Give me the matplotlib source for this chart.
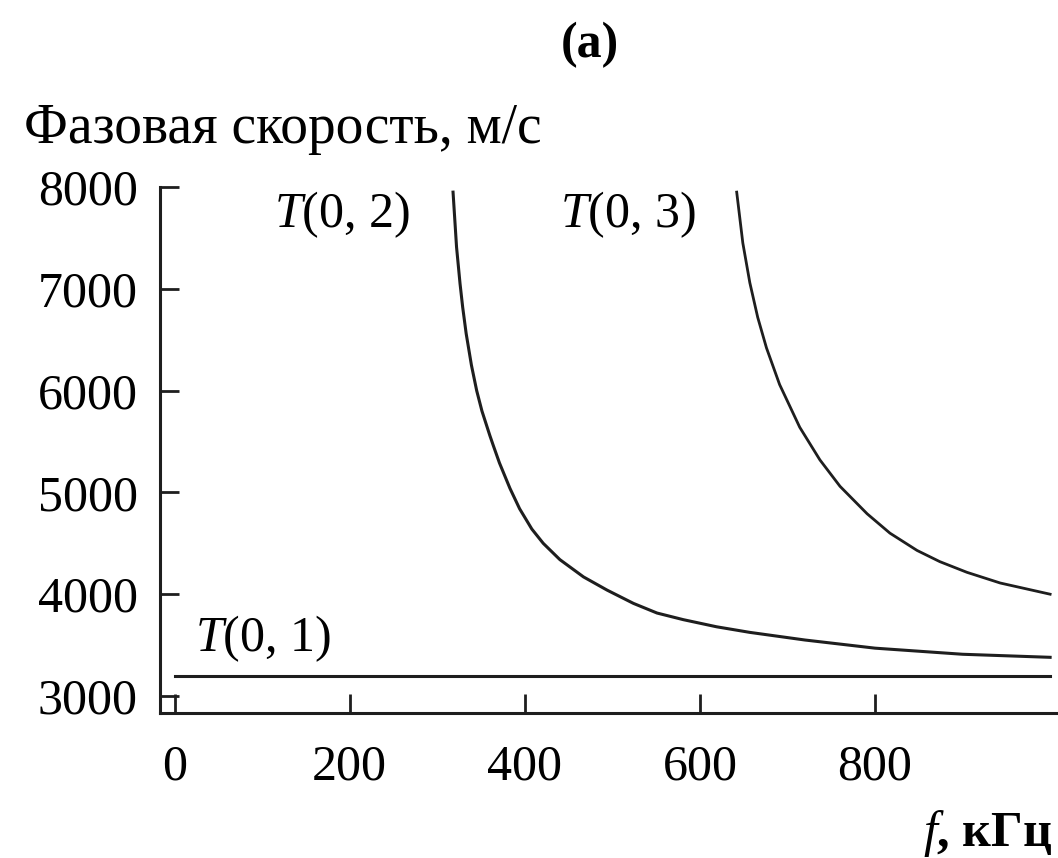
import matplotlib
matplotlib.use('Agg')
import matplotlib.pyplot as plt

# values
f_t01 = [0, 1000]
v_t01 = [3200, 3200]

f_t02 = [318, 322, 326, 329, 333, 339, 345, 351, 360, 364, 371, 383, 394, 408, 421,
         440, 467, 494, 524, 551, 581, 619, 657, 720, 800, 900, 1000]
v_t02 = [7950, 7410, 7050, 6820, 6560, 6250, 6000, 5800, 5560, 5460, 5290, 5040, 4840, 4640, 4500,
         4340, 4170, 4040, 3910, 3815, 3750, 3680, 3625, 3550, 3470, 3410, 3380]

f_t03 = [642, 649, 657, 666, 676, 691, 714, 737, 760, 791, 817, 848, 874, 905, 943, 1000]
v_t03 = [7950, 7450, 7060, 6720, 6420, 6060, 5640, 5320, 5060, 4790, 4600, 4430, 4320, 4215, 4110, 4000]

x_ticks = [0, 200, 400, 600, 800]
y_ticks = [3000, 4000, 5000, 6000, 7000, 8000]

plt.rcParams['font.family'] = ['Liberation Serif', 'DejaVu Serif']
plt.rcParams['mathtext.fontset'] = 'custom'
plt.rcParams['mathtext.rm'] = 'Liberation Serif'
plt.rcParams['mathtext.it'] = 'Liberation Serif:italic'

fig = plt.figure(figsize=(10.58, 8.58), dpi=100)
ax = fig.add_axes([0.151, 0.169, 0.849, 0.613])

col = '#1e1e1e'
ax.plot(f_t01, v_t01, color=col, lw=2.2)
ax.plot(f_t02, v_t02, color=col, lw=2.2)
ax.plot(f_t03, v_t03, color=col, lw=2.0)

ax.set_xlim(-17, 1009)
ax.set_ylim(2833, 8000)
ax.set_xticks(x_ticks)
ax.set_yticks(y_ticks)

for s in ['top', 'right']:
    ax.spines[s].set_visible(False)
for s in ['left', 'bottom']:
    ax.spines[s].set_linewidth(2.2)
    ax.spines[s].set_color(col)

ax.tick_params(direction='in', length=14, width=2, color=col, labelsize=36)
ax.tick_params(axis='x', pad=22)
ax.tick_params(axis='y', pad=16)

ax.text(114, 7725, '$T$(0, 2)', fontsize=36, va='center', ha='left')
ax.text(440, 7725, '$T$(0, 3)', fontsize=36, va='center', ha='left')
ax.text(23, 3560, '$T$(0, 1)', fontsize=36, va='center', ha='left')

fig.text(0.023, 0.85, 'Фазовая скорость, м/с', fontsize=40, va='center', ha='left')
fig.text(0.558, 0.948, '(a)', fontsize=36, va='center', ha='center', fontweight='bold')
fig.text(0.995, 0.028, '$f$, кГц', fontsize=36, va='center', ha='right', fontweight='bold')

fig.savefig('out.png', dpi=100, facecolor='white')
